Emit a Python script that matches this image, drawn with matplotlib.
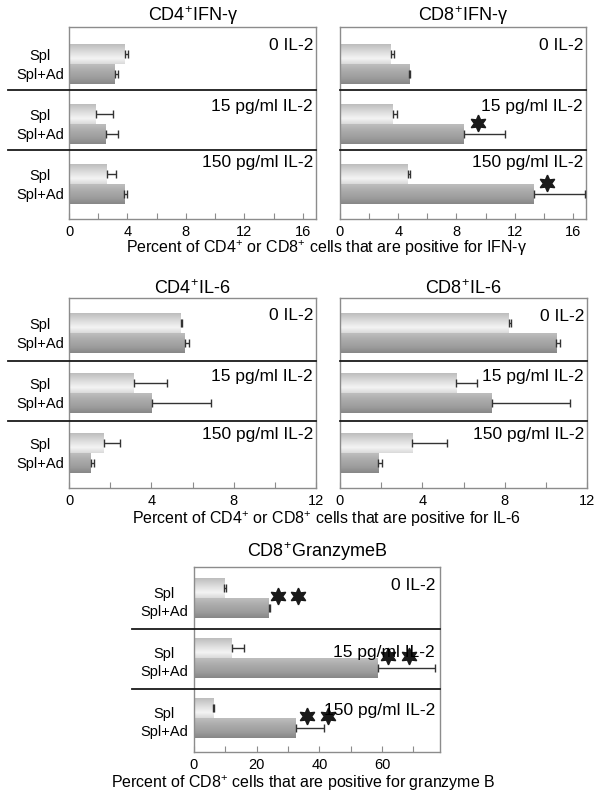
import numpy as np
import matplotlib
matplotlib.use("Agg")
import matplotlib.pyplot as plt
from matplotlib.colors import LinearSegmentedColormap
from matplotlib.lines import Line2D
import matplotlib.transforms as mtrans

plt.rcParams['font.family'] = ['Liberation Sans', 'DejaVu Sans']
plt.rcParams['mathtext.fontset'] = 'custom'
plt.rcParams['mathtext.rm'] = 'Liberation Sans'
plt.rcParams['mathtext.it'] = 'Liberation Sans'
plt.rcParams['mathtext.bf'] = 'Liberation Sans'

# ---------------- data ----------------
groups = ["0 IL-2", "15 pg/ml IL-2", "150 pg/ml IL-2"]
bar_labels = ["Spl", "Spl+Ad"]

cd4_ifn_spl = [3.83, 1.82, 2.57]
cd4_ifn_spl_err = [0.22, 1.21, 0.64]
cd4_ifn_ad = [3.14, 2.53, 3.78]
cd4_ifn_ad_err = [0.23, 0.84, 0.16]
cd4_ifn_stars = [[], [], []]

cd8_ifn_spl = [3.49, 3.62, 4.66]
cd8_ifn_spl_err = [0.25, 0.32, 0.16]
cd8_ifn_ad = [4.75, 8.49, 13.3]
cd8_ifn_ad_err = [0.09, 2.86, 3.5]
cd8_ifn_stars = [[], [9.47], [14.2]]

cd4_il6_spl = [5.43, 3.15, 1.69]
cd4_il6_spl_err = [0.08, 1.6, 0.8]
cd4_il6_ad = [5.62, 4.02, 1.06]
cd4_il6_ad_err = [0.21, 2.89, 0.14]
cd4_il6_stars = [[], [], []]

cd8_il6_spl = [8.2, 5.65, 3.52]
cd8_il6_spl_err = [0.12, 1.01, 1.68]
cd8_il6_ad = [10.5, 7.38, 1.86]
cd8_il6_ad_err = [0.21, 3.8, 0.18]
cd8_il6_stars = [[], [], []]

cd8_gzb_spl = [9.6, 12.0, 6.1]
cd8_gzb_spl_err = [0.5, 4.0, 0.3]
cd8_gzb_ad = [23.9, 58.6, 32.5]
cd8_gzb_ad_err = [0.3, 18.3, 9.0]
cd8_gzb_stars = [[26.7, 33.3], [61.8, 68.5], [36.0, 42.7]]

W, H = 603, 801
fig = plt.figure(figsize=(W / 100, H / 100), dpi=100)

spl_cmap = LinearSegmentedColormap.from_list(
    "spl", [(0, "#bdbdbd"), (0.35, "#d9d9d9"), (0.72, "#f4f4f4"), (1.0, "#dadada")])
ad_cmap = LinearSegmentedColormap.from_list(
    "ad", [(0, "#bebebe"), (0.3, "#adadad"), (0.7, "#9c9c9c"), (1.0, "#878787")])
grad = np.linspace(0, 1, 64).reshape(-1, 1)

SPINE = "#8c8c8c"


def px_axes(l, t, r, b):
    return [l / W, 1 - b / H, (r - l) / W, (b - t) / H]


def panel(rect, title, spl, spl_err, ad, ad_err, stars, xmax, step, lab_step,
          c0, sep_off, bottom, glab_y, ylab_x=None, sep_x0=None,
          lab_off=(0.12, 0.05), star_dy=-0.1, glab_pad=3, title_pad=0.5):
    ax = fig.add_axes(px_axes(*rect))
    n = len(groups)
    yspl = np.array([c0 + 3 * g for g in range(n)])
    yad = yspl + 1
    bars1 = ax.barh(yspl, spl, height=1.0, color="none", edgecolor="none")
    bars2 = ax.barh(yad, ad, height=1.0, color="none", edgecolor="none")
    for bars, cmap in ((bars1, spl_cmap), (bars2, ad_cmap)):
        for p in bars.patches:
            x0, y0 = p.get_x(), p.get_y()
            w, h = p.get_width(), p.get_height()
            im = ax.imshow(grad, cmap=cmap, aspect="auto", vmin=0, vmax=1,
                           extent=(x0, x0 + w, y0 + h, y0), interpolation="bilinear",
                           zorder=2)
            im.set_clip_path(p)
    ax.errorbar(spl, yspl, xerr=[np.zeros(n), spl_err], fmt="none",
                ecolor="#333333", elinewidth=1.0, capsize=3, capthick=1.0, zorder=3)
    ax.errorbar(ad, yad, xerr=[np.zeros(n), ad_err], fmt="none",
                ecolor="#333333", elinewidth=1.0, capsize=3, capthick=1.0, zorder=3)
    for g in range(n):
        for sx in stars[g]:
            ax.plot(sx, yspl[g] + 0.5 + star_dy, marker=(6, 1, 0), ms=12,
                    color="#1a1a1a", mec="#1a1a1a", zorder=4)
    ax.set_xlim(0, xmax)
    ax.set_ylim(bottom, 0)
    ticks = np.arange(0, xmax + 1e-9, step)
    ax.set_xticks(ticks)
    ax.set_xticklabels([("%d" % t) if (round(t) % lab_step == 0) else "" for t in ticks])
    ax.tick_params(axis="x", direction="in", length=4, width=0.8, color=SPINE,
                   labelsize=10.5, pad=4)
    ax.set_yticks([])
    for s in ax.spines.values():
        s.set_color(SPINE)
        s.set_linewidth(1.0)
    ax.set_title(title, fontsize=13, pad=title_pad)
    # separators
    axl, axr = rect[0], rect[2]
    x0 = sep_x0 if sep_x0 is not None else axl
    tr = mtrans.blended_transform_factory(fig.transFigure, ax.transData)
    for g in range(1, n):
        ys = yad[g - 1] + 0.5 + sep_off
        ax.add_line(Line2D([x0 / W, axr / W], [ys, ys], transform=tr,
                           color="#1a1a1a", lw=1.3, clip_on=False, zorder=5))
    # group labels
    trx = mtrans.blended_transform_factory(ax.transAxes, ax.transData)
    for g in range(n):
        ax.text(1 - glab_pad / (axr - axl), glab_y[g], groups[g], transform=trx,
                ha="right", va="center", fontsize=12.5, zorder=6)
    if ylab_x is not None:
        for g in range(n):
            ax.text(ylab_x / W, yspl[g] + lab_off[0], bar_labels[0], transform=tr,
                    ha="center", va="center", fontsize=10.5)
            ax.text(ylab_x / W, yad[g] + lab_off[1], bar_labels[1], transform=tr,
                    ha="center", va="center", fontsize=10.5)
    return ax


panel((69, 27, 316, 219), r"CD4$^{+}$IFN-γ", cd4_ifn_spl, cd4_ifn_spl_err,
      cd4_ifn_ad, cd4_ifn_ad_err, cd4_ifn_stars, 16.9, 2, 4,
      c0=1.35, sep_off=0.3, bottom=9.6, glab_y=[0.95, 3.95, 6.8],
      ylab_x=40, sep_x0=8)
panel((340, 27, 586, 219), r"CD8$^{+}$IFN-γ", cd8_ifn_spl, cd8_ifn_spl_err,
      cd8_ifn_ad, cd8_ifn_ad_err, cd8_ifn_stars, 16.9, 2, 4,
      c0=1.35, sep_off=0.3, bottom=9.6, glab_y=[0.9, 3.95, 6.8], star_dy=-0.05)
panel((69, 298, 316, 488), r"CD4$^{+}$IL-6", cd4_il6_spl, cd4_il6_spl_err,
      cd4_il6_ad, cd4_il6_ad_err, cd4_il6_stars, 12, 2, 4,
      c0=1.25, sep_off=0.4, bottom=9.5, glab_y=[0.85, 3.9, 6.85],
      ylab_x=40, sep_x0=8)
panel((340, 298, 587, 488), r"CD8$^{+}$IL-6", cd8_il6_spl, cd8_il6_spl_err,
      cd8_il6_ad, cd8_il6_ad_err, cd8_il6_stars, 12, 2, 4,
      c0=1.25, sep_off=0.4, bottom=9.5, glab_y=[0.93, 3.9, 6.85])
panel((194, 567, 440, 752), r"CD8$^{+}$GranzymeB", cd8_gzb_spl, cd8_gzb_spl_err,
      cd8_gzb_ad, cd8_gzb_ad_err, cd8_gzb_stars, 78.5, 10, 20,
      c0=1.05, sep_off=0.55, bottom=9.25, glab_y=[0.9, 4.25, 7.15],
      ylab_x=164, sep_x0=132, lab_off=(0.32, 0.2), glab_pad=5, title_pad=7)

fig.text(327 / W, 1 - 248 / H, r"Percent of CD4$^{+}$ or CD8$^{+}$ cells that are positive for IFN-γ",
         ha="center", va="center", fontsize=11.5)
fig.text(327 / W, 1 - 519 / H, r"Percent of CD4$^{+}$ or CD8$^{+}$ cells that are positive for IL-6",
         ha="center", va="center", fontsize=11.5)
fig.text(303 / W, 1 - 783 / H, r"Percent of CD8$^{+}$ cells that are positive for granzyme B",
         ha="center", va="center", fontsize=11.5)

fig.savefig("out.png", dpi=100, facecolor="white")
